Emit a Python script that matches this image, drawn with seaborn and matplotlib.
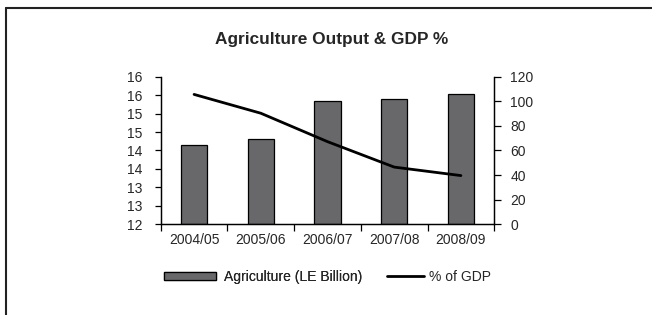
import numpy as np
import pandas as pd
import matplotlib.pyplot as plt
import seaborn as sns
from matplotlib.lines import Line2D
from matplotlib.patches import Patch


# data
years = ["2004/05", "2005/06", "2006/07", "2007/08", "2008/09"]
agri_output = [64.5, 69.0, 100.0, 102.0, 106.0]      # LE billion, right axis
gdp_share = [15.52, 15.01, 14.24, 13.55, 13.32]      # % of GDP, left axis
left_ticks = [12, 12.5, 13, 13.5, 14, 14.5, 15, 15.5, 16]
left_tick_labels = ["12", "13", "13", "14", "14", "15", "15", "16", "16"]
right_ticks = [0, 20, 40, 60, 80, 100, 120]

df = pd.DataFrame({"year": years, "agri": agri_output, "gdp": gdp_share})

sns.set_style("white")
plt.rcParams["font.family"] = ["Liberation Sans", "DejaVu Sans"]
plt.rcParams["font.size"] = 10

fig = plt.figure(figsize=(6.52, 3.15), dpi=100)
ax_bar = fig.add_axes([0.2465, 0.288, 0.5116, 0.4685])
ax_line = ax_bar.twinx()

# bars on the right-hand scale
sns.barplot(data=df, x="year", y="agri", ax=ax_bar, color="#68686b",
            saturation=1, width=0.39, edgecolor="black", linewidth=0.9)
ax_bar.yaxis.tick_right()
ax_bar.yaxis.set_label_position("right")
ax_bar.set_ylim(0, 120)
ax_bar.set_yticks(right_ticks)
ax_bar.set_xlim(-0.5, len(years) - 0.5)

# line on the left-hand scale
sns.lineplot(x=np.arange(len(years)), y=df["gdp"], ax=ax_line, color="black",
             linewidth=2.0)
ax_line.yaxis.tick_left()
ax_line.yaxis.set_label_position("left")
ax_line.set_ylim(12, 16)
ax_line.set_yticks(left_ticks)
ax_line.set_yticklabels(left_tick_labels)

for a in (ax_bar, ax_line):
    a.set_xlabel("")
    a.set_ylabel("")
    a.spines["top"].set_visible(False)
    for s in ("left", "right", "bottom"):
        a.spines[s].set_color("black")
        a.spines[s].set_linewidth(0.9)
ax_line.tick_params(axis="y", length=4.3, width=0.9, color="black",
                    labelsize=10, pad=8.6)
ax_bar.tick_params(axis="y", length=5, width=0.9, color="black",
                   labelsize=10, pad=6.5)

# category separators as x ticks
ax_bar.set_xticks(range(len(years)))
ax_bar.set_xticklabels(years)
ax_bar.set_xticks(np.arange(-0.5, len(years)), minor=True)
ax_bar.tick_params(axis="x", which="major", length=0, labelsize=10, pad=6)
ax_bar.tick_params(axis="x", which="minor", length=5, width=0.9, color="black",
                   bottom=True)

fig.text(331.7 / 652, 1 - 39.3 / 315, "Agriculture Output & GDP %",
         ha="center", va="center", fontsize=12.4, fontweight="bold")

# legends below the plot
leg1 = fig.legend(handles=[Patch(facecolor="#68686b", edgecolor="black", linewidth=0.9)],
                  labels=["Agriculture (LE Billion)"], loc="center left",
                  bbox_to_anchor=(164 / 652, 1 - 277 / 315), frameon=False,
                  borderpad=0, borderaxespad=0, handlelength=3.75,
                  handleheight=0.55, handletextpad=0.6, fontsize=10)
fig.add_artist(leg1)
fig.legend(handles=[Line2D([], [], color="black", linewidth=2.0)],
           labels=["% of GDP"], loc="center left",
           bbox_to_anchor=(387 / 652, 1 - 277 / 315), frameon=False,
           borderpad=0, borderaxespad=0, handlelength=2.65,
           handletextpad=0.4, fontsize=10)

# partial frame around the figure (top and left only)
fy = 1 - 8 / 315
fx = 6 / 652
fig.add_artist(Line2D([fx, fx], [0, fy], color="#222222", linewidth=1.5))
fig.add_artist(Line2D([fx, 1], [fy, fy], color="#222222", linewidth=1.5))

fig.savefig("out.png", dpi=100)
